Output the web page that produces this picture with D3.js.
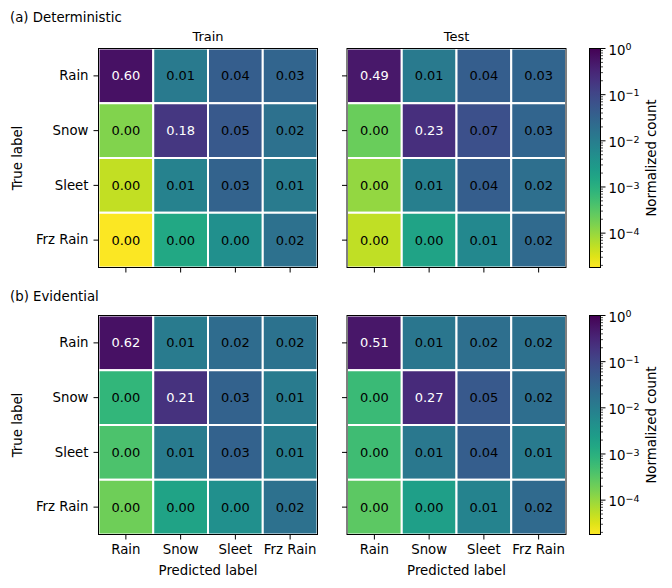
<!DOCTYPE html>
<html>
<head>
<meta charset="utf-8">
<script src="https://cdn.jsdelivr.net/npm/d3@7"></script>
<style>
  body { margin: 0; background: #fff; }
  svg { font-family: "DejaVu Sans", sans-serif; }
</style>
</head>
<body>
<script>
const labels = ["Rain", "Snow", "Sleet", "Frz Rain"];

// rows = true label, cols = predicted label
const detTrain = [
  [0.60, 0.0115, 0.040, 0.030],
  [1.45e-4, 0.18, 0.050, 0.018],
  [4.9e-5, 0.0082, 0.032, 0.0112],
  [1.9e-5, 0.00145, 0.0043, 0.0175]
];
const detTest = [
  [0.49, 0.0114, 0.040, 0.030],
  [2.2e-4, 0.23, 0.070, 0.030],
  [1.05e-4, 0.0092, 0.040, 0.019],
  [5.1e-5, 0.0018, 0.0060, 0.024]
];
const evdTrain = [
  [0.62, 0.0112, 0.022, 0.016],
  [7.4e-4, 0.21, 0.034, 0.0112],
  [3.9e-4, 0.0112, 0.034, 0.0102],
  [2.0e-4, 0.0018, 0.0043, 0.0175]
];
const evdTest = [
  [0.51, 0.0135, 0.0196, 0.0175],
  [6.0e-4, 0.27, 0.050, 0.020],
  [5.3e-4, 0.0125, 0.040, 0.0114],
  [2.8e-4, 0.0022, 0.0074, 0.024]
];

const rowTitles = ["(a) Deterministic", "(b) Evidential"];
const colTitles = ["Train", "Test"];
const decadeTicks = [1e-4, 1e-3, 1e-2, 1e-1, 1];
const vmin = 1.8e-5, vmax = 1;

const width = 672, height = 588;
const size = 219;
const panelX = [98.5, 347];
const panelY = [48.5, 315.5];
const rowTitleY = [22, 301];
const cbX = 589.5, cbW = 11;

const svg = d3.select("body").append("svg")
  .attr("width", width).attr("height", height);

const color = d3.scaleSequentialLog(t => d3.interpolateViridis(1 - t))
  .domain([vmin, vmax]);

const x = d3.scaleBand().domain(labels).range([0, size]);
const y = d3.scaleBand().domain(labels).range([0, size]);

const fs = "13.3px";

function panel(data, px, py, showY, showX) {
  const g = svg.append("g").attr("transform", `translate(${px},${py})`);
  const cells = [];
  data.forEach((row, i) => row.forEach((v, j) => cells.push({ t: labels[i], p: labels[j], v })));

  g.selectAll("rect.cell").data(cells).enter().append("rect")
    .attr("class", "cell")
    .attr("x", d => x(d.p)).attr("y", d => y(d.t))
    .attr("width", x.bandwidth()).attr("height", y.bandwidth())
    .attr("fill", d => color(d.v))
    .attr("stroke", "#fff").attr("stroke-width", 2);

  g.selectAll("text.val").data(cells).enter().append("text")
    .attr("class", "val")
    .attr("x", d => x(d.p) + x.bandwidth() / 2)
    .attr("y", d => y(d.t) + y.bandwidth() / 2)
    .attr("dy", "0.35em")
    .attr("text-anchor", "middle")
    .attr("font-size", "13px")
    .attr("fill", d => d.v > 0.1 ? "#fff" : "#000")
    .text(d => d.v.toFixed(2));

  g.append("rect").attr("width", size).attr("height", size)
    .attr("fill", "none").attr("stroke", "#000").attr("stroke-width", 1);

  const ya = g.append("g")
    .call(d3.axisLeft(y).tickSize(5).tickPadding(5).tickFormat(showY ? d => d : ""));
  const xa = g.append("g").attr("transform", `translate(0,${size})`)
    .call(d3.axisBottom(x).tickSize(5).tickPadding(5).tickFormat(showX ? d => d : ""));
  [ya, xa].forEach(a => {
    a.select(".domain").remove();
    a.selectAll("text").attr("font-size", fs).attr("fill", "#000")
      .attr("font-family", "DejaVu Sans, sans-serif");
    a.selectAll("line").attr("stroke", "#000");
  });
  return g;
}

const grid = [[detTrain, detTest], [evdTrain, evdTest]];
grid.forEach((row, r) => {
  row.forEach((data, c) => {
    const g = panel(data, panelX[c], panelY[r], c === 0, r === 1);
    if (r === 0) {
      g.append("text").attr("x", size / 2).attr("y", -8)
        .attr("text-anchor", "middle").attr("font-size", "13px")
        .text(colTitles[c]);
    }
    if (r === 1) {
      g.append("text").attr("x", size / 2).attr("y", size + 40)
        .attr("text-anchor", "middle").attr("font-size", fs)
        .text("Predicted label");
    }
  });

  svg.append("text").attr("x", 10).attr("y", rowTitleY[r])
    .attr("font-size", fs).text(rowTitles[r]);

  svg.append("text")
    .attr("transform", `translate(22,${panelY[r] + size / 2}) rotate(-90)`)
    .attr("text-anchor", "middle").attr("font-size", fs)
    .text("True label");

  // colorbar
  const cb = svg.append("g").attr("transform", `translate(${cbX},${panelY[r]})`);
  const cbScale = d3.scaleLog().domain([vmin, vmax]).range([size, 0]);
  const gradId = "grad" + r;
  const grad = svg.append("defs").append("linearGradient").attr("id", gradId)
    .attr("x1", 0).attr("y1", 1).attr("x2", 0).attr("y2", 0);
  d3.range(0, 1.0001, 0.05).forEach(t => {
    grad.append("stop").attr("offset", t).attr("stop-color", d3.interpolateViridis(1 - t));
  });
  cb.append("rect").attr("width", cbW).attr("height", size)
    .attr("fill", `url(#${gradId})`).attr("stroke", "#000").attr("stroke-width", 1);

  const minor = cbScale.ticks().filter(v => !decadeTicks.includes(v) && v >= vmin);
  cb.selectAll("line.minor").data(minor).enter().append("line")
    .attr("x1", cbW).attr("x2", cbW + 2.5)
    .attr("y1", d => cbScale(d)).attr("y2", d => cbScale(d))
    .attr("stroke", "#000").attr("stroke-width", 0.7);
  cb.selectAll("line.major").data(decadeTicks).enter().append("line")
    .attr("x1", cbW).attr("x2", cbW + 5)
    .attr("y1", d => cbScale(d)).attr("y2", d => cbScale(d))
    .attr("stroke", "#000");
  const tl = cb.selectAll("text.tick").data(decadeTicks).enter().append("text")
    .attr("x", cbW + 8).attr("y", d => cbScale(d)).attr("dy", "0.45em")
    .attr("font-size", fs);
  tl.append("tspan").text("10");
  tl.append("tspan").attr("dy", "-0.45em").attr("font-size", "9.5px")
    .text(d => { const e = Math.round(Math.log10(d)); return e < 0 ? "\u2212" + (-e) : e; });

  cb.append("text")
    .attr("transform", `translate(${cbW + 55},${size / 2}) rotate(-90)`)
    .attr("text-anchor", "middle").attr("font-size", fs)
    .text("Normalized count");
});
</script>
</body>
</html>
